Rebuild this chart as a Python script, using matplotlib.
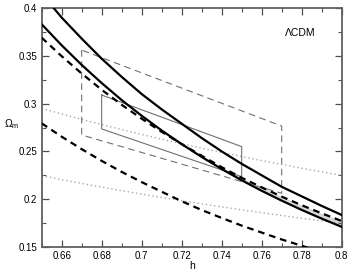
import matplotlib
matplotlib.use("Agg")
import matplotlib.pyplot as plt
import numpy as np

plt.rcParams['font.family'] = ['Liberation Sans', 'DejaVu Sans']
plt.rcParams['mathtext.fontset'] = 'custom'
plt.rcParams['mathtext.rm'] = 'Liberation Sans'
plt.rcParams['mathtext.it'] = 'Liberation Sans'

# ---- data ----
h_grid = [0.65, 0.66, 0.67, 0.68, 0.69, 0.70, 0.71, 0.72, 0.73, 0.74, 0.75, 0.76, 0.77, 0.78, 0.79, 0.80]

h_s1 = [0.656, 0.66, 0.67, 0.68, 0.69, 0.70, 0.71, 0.72, 0.73, 0.74, 0.75, 0.76, 0.77, 0.78, 0.79, 0.80]
om_s1 = [0.400, 0.390, 0.368, 0.347, 0.328, 0.310, 0.294, 0.279, 0.264, 0.250, 0.237, 0.225, 0.213, 0.203, 0.193, 0.1835]

om_s2 = [0.383, 0.361, 0.3405, 0.3215, 0.3037, 0.2873, 0.2719, 0.2576, 0.2442, 0.2316, 0.2198, 0.2088, 0.1985, 0.1888, 0.1797, 0.1711]

om_d1 = [0.369, 0.3496, 0.3315, 0.3145, 0.2988, 0.2842, 0.2705, 0.2577, 0.2454, 0.2335, 0.2224, 0.2124, 0.2027, 0.1937, 0.1852, 0.1772]

h_d2 = [0.65, 0.66, 0.67, 0.68, 0.69, 0.70, 0.71, 0.72, 0.73, 0.74, 0.75, 0.76, 0.77, 0.78, 0.79]
om_d2 = [0.2794, 0.2654, 0.2524, 0.2401, 0.2286, 0.2179, 0.2078, 0.1979, 0.1887, 0.1804, 0.1724, 0.1651, 0.1579, 0.1513, 0.1448]

om_p1 = [0.295, 0.2892, 0.2835, 0.2781, 0.2728, 0.2677, 0.2628, 0.2580, 0.2534, 0.2490, 0.2446, 0.2404, 0.2364, 0.2324, 0.2286, 0.2249]
om_p2 = [0.2246, 0.2205, 0.2165, 0.2127, 0.2089, 0.2053, 0.2019, 0.1985, 0.1952, 0.1920, 0.1889, 0.1859, 0.1830, 0.1801, 0.1774, 0.1748]

# boxes (parallelograms): corners h, Omega
box_solid_h = [0.68, 0.68, 0.75, 0.75, 0.68]
box_solid_om = [0.309, 0.2735, 0.2235, 0.255, 0.309]
box_dash_h = [0.67, 0.67, 0.77, 0.77, 0.67]
box_dash_om = [0.356, 0.2672, 0.2062, 0.2765, 0.356]

label_text = "\u039bCDM"
x_ticks = [0.66, 0.68, 0.70, 0.72, 0.74, 0.76, 0.78, 0.80]
x_ticklabels = ["0.66", "0.68", "0.7", "0.72", "0.74", "0.76", "0.78", "0.8"]
y_ticks = [0.15, 0.20, 0.25, 0.30, 0.35, 0.40]
y_ticklabels = ["0.15", "0.2", "0.25", "0.3", "0.35", "0.4"]

# ---- figure ----
fig = plt.figure(figsize=(3.53, 2.73), dpi=100)
ax = fig.add_axes([0.118, 0.0952, 0.850, 0.8755])

hg = np.array(h_grid)
s2 = np.array(om_s2)
d1 = np.array(om_d1)
ax.fill_between(hg, s2, d1, where=(d1 >= s2), color='#d8d8d8', lw=0, interpolate=True, zorder=1)

ax.plot(h_grid, om_p1, color='#a8a8a8', lw=1.0, ls=(0, (1, 2)), zorder=2)
ax.plot(h_grid, om_p2, color='#a8a8a8', lw=1.0, ls=(0, (1, 2)), zorder=2)
ax.plot(box_dash_h, box_dash_om, color='#707070', lw=0.8, ls=(0, (6, 4)), zorder=2)
ax.plot(box_solid_h, box_solid_om, color='#707070', lw=0.8, zorder=2)

ax.plot(h_s1, om_s1, color='black', lw=1.6, zorder=3)
ax.plot(h_grid, om_s2, color='black', lw=1.6, zorder=3)
ax.plot(h_grid, om_d1, color='black', lw=1.6, ls=(0, (3, 2.2)), zorder=3)
ax.plot(h_d2, om_d2, color='black', lw=1.6, ls=(0, (3, 2.2)), zorder=3)

ax.set_xlim(0.65, 0.80)
ax.set_ylim(0.15, 0.40)
ax.set_xticks(x_ticks)
ax.set_xticklabels(x_ticklabels)
ax.set_yticks(y_ticks)
ax.set_yticklabels(y_ticklabels)
ax.set_xticks(np.arange(0.65, 0.8001, 0.01), minor=True)
ax.set_yticks(np.arange(0.15, 0.4001, 0.025), minor=True)
ax.tick_params(which='both', direction='in', top=True, right=True, labelsize=7, color='#505050', pad=3)
ax.tick_params(which='major', length=5, width=0.9)
ax.tick_params(which='minor', length=3, width=0.8)
for sp in ax.spines.values():
    sp.set_color('#606060')
    sp.set_linewidth(1.3)

ax.text(0.862, 0.895, label_text, transform=ax.transAxes, ha='center', va='center', fontsize=7.5)
ax.set_xlabel('h', fontsize=7.5, labelpad=0)
fig.text(0.032, 0.545, r'$\Omega_{m}$', fontsize=7.5, ha='center', va='center')

fig.savefig('out.png', dpi=100)
